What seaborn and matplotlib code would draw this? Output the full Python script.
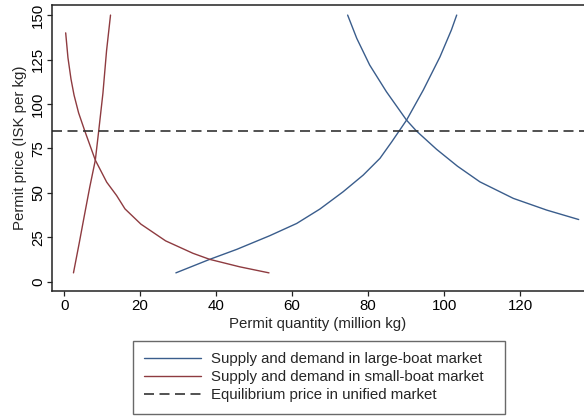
import matplotlib
matplotlib.use("Agg")
import matplotlib.pyplot as plt
import seaborn as sns

# ---- data ----
large_supply_q = [29.4, 38.3, 45.4, 54.1, 61.2, 67.3, 73.4, 78.7, 83.1, 86.2, 90.1, 94.5, 98.9, 101.9, 103.3]
large_supply_p = [5.0, 12.6, 18.2, 25.9, 32.8, 40.9, 50.6, 60.0, 69.4, 78.7, 90.9, 107.8, 126.5, 141.6, 150.0]

large_demand_q = [74.6, 77.0, 80.4, 84.8, 90.1, 92.7, 98.0, 103.5, 109.4, 118.2, 127.0, 135.4]
large_demand_p = [150.0, 136.9, 121.9, 106.9, 90.9, 84.8, 74.5, 65.0, 56.2, 46.9, 40.3, 35.0]

small_supply_q = [2.45, 3.95, 5.26, 6.75, 8.2, 9.1, 10.2, 11.16, 12.2]
small_supply_p = [5.0, 21.6, 36.6, 53.4, 68.4, 85.0, 106.0, 130.0, 150.0]

small_demand_q = [0.4, 1.0, 1.8, 2.6, 3.8, 5.4, 8.2, 11.2, 13.8, 16.0, 20.2, 26.7, 33.9, 38.3, 46.2, 53.9]
small_demand_p = [140.0, 126.0, 114.0, 105.0, 95.0, 85.0, 68.4, 56.0, 48.5, 41.0, 32.4, 23.0, 16.0, 12.6, 8.4, 5.0]

equilibrium_price = 85

x_ticks = [0, 20, 40, 60, 80, 100, 120]
y_ticks = [0, 25, 50, 75, 100, 125, 150]

labels = ["Supply and demand in large-boat market",
          "Supply and demand in small-boat market",
          "Equilibrium price in unified market"]

# ---- style ----
sns.set_theme(style="white")
plt.rcParams["font.family"] = ["Liberation Sans", "DejaVu Sans"]
FS = 10.8
plt.rcParams["font.size"] = FS

BLUE = "#3a5d8c"
RED = "#8e3b40"
DASH = "#333333"

W, H = 584, 417
fig = plt.figure(figsize=(W / 100, H / 100), dpi=100)
ax = fig.add_axes([52 / W, (H - 291) / H, (W - 52) / W, (291 - 5.3) / H])

lw = 1.0
sns.lineplot(x=large_supply_q, y=large_supply_p, ax=ax, color=BLUE, lw=lw, sort=False,
             estimator=None, label=labels[0])
sns.lineplot(x=large_demand_q, y=large_demand_p, ax=ax, color=BLUE, lw=lw, sort=False,
             estimator=None)
sns.lineplot(x=small_supply_q, y=small_supply_p, ax=ax, color=RED, lw=lw, sort=False,
             estimator=None, label=labels[1])
sns.lineplot(x=small_demand_q, y=small_demand_p, ax=ax, color=RED, lw=lw, sort=False,
             estimator=None)
ax.axhline(equilibrium_price, color=DASH, lw=1.2, dashes=(6, 3.3), label=labels[2])

ax.set_xlim(-3.2, 136.8)
ax.set_ylim(-5.2, 155.5)
ax.set_xticks(x_ticks)
ax.set_yticks(y_ticks)
ax.set_xticklabels([str(v) for v in x_ticks])
ax.set_yticklabels([str(v) for v in y_ticks], rotation=90, va="center")

for side in ["left", "bottom", "top"]:
    ax.spines[side].set_visible(True)
    ax.spines[side].set_color("#222222")
    ax.spines[side].set_linewidth(1.1)
ax.spines["right"].set_visible(False)

ax.tick_params(axis="both", which="major", direction="out", length=3.6, width=0.9,
               color="#222222", labelsize=FS, labelcolor="black",
               bottom=True, left=True)
ax.tick_params(axis="x", pad=2.2)
ax.tick_params(axis="y", pad=1.5)

ax.set_xlabel("Permit quantity (million kg)", fontsize=FS, labelpad=2.5)
ax.set_ylabel("Permit price (ISK per kg)", fontsize=FS)
ax.yaxis.set_label_coords(-0.047, 0.5)

handles, labs = ax.get_legend_handles_labels()
if ax.get_legend() is not None:
    ax.get_legend().remove()
leg = fig.legend(handles, labs, loc="upper left",
                 bbox_to_anchor=(133 / W, (H - 413) / H, (505 - 133) / W, (413 - 341) / H),
                 mode="expand", frameon=True, fancybox=False, fontsize=FS,
                 handlelength=3.8, handletextpad=0.67, labelspacing=0.27,
                 borderpad=0.75, borderaxespad=0)
leg.get_frame().set_edgecolor("#444444")
leg.get_frame().set_linewidth(1.0)

fig.savefig("out.png", dpi=100)
